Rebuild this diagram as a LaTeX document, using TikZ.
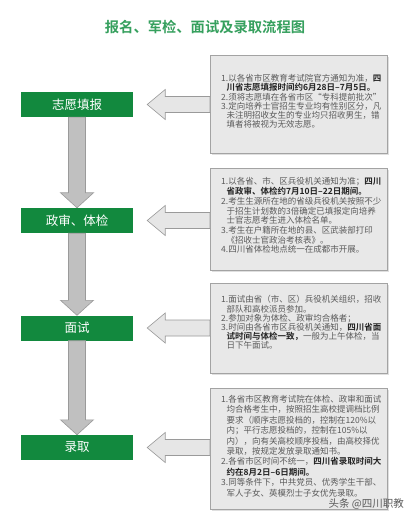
\documentclass[tikz,border=0pt]{standalone}
\usepackage{fontspec}
\setmainfont{Noto Sans CJK SC}[BoldFont={Noto Sans CJK SC Bold}]
\usetikzlibrary{calc,shadows}
\definecolor{gboxc}{HTML}{12893E}
\definecolor{titlec}{HTML}{36A05E}
\definecolor{tboxfill}{HTML}{E8E8E8}
\definecolor{tboxline}{HTML}{A3A3A3}
\definecolor{txtc}{HTML}{5A5A5A}
\definecolor{hlc}{HTML}{222222}
\definecolor{varrowc}{HTML}{C0C0C0}
\definecolor{sarrowc}{HTML}{E6E6E6}
\definecolor{arrowline}{HTML}{9A9A9A}
\newcommand\hl[1]{\textbf{\color{hlc}#1}}
\newcommand\ind{\hspace*{5.5pt}}
\newcommand\myvarrow[2]{%
  \filldraw[varrow] ($(#1.south)+(-8.5,0)$) -- ($(#2.north)+(-8.5,-15)$) -- ($(#2.north)+(-16.5,-15)$) -- (#2.north) -- ($(#2.north)+(16.5,-15)$) -- ($(#2.north)+(8.5,-15)$) -- ($(#1.south)+(8.5,0)$) -- cycle;}
\newcommand\mysarrow[2]{%
  \coordinate (tip#2) at ($(#2.east)+(14,0)$);
  \filldraw[sarrow] (tip#2) -- ($(tip#2)+(18,-15)$) -- ($(tip#2)+(18,-8)$) -- ($(tip#2 -| #1.west)+(0,-8)$) -- ($(tip#2 -| #1.west)+(0,8)$) -- ($(tip#2)+(18,8)$) -- ($(tip#2)+(18,15)$) -- cycle;}
\begin{document}
\begin{tikzpicture}[x=1pt,y=-1pt,
  gbox/.style={fill=gboxc, text=white, minimum width=112pt, minimum height=25pt, inner sep=0pt, font=\fontsize{12.5}{14}\selectfont},
  tbox/.style={fill=tboxfill, draw=tboxline, line width=0.8pt, minimum width=177pt, inner sep=0pt, anchor=north west,
     drop shadow={shadow xshift=1.5pt, shadow yshift=-1.5pt, opacity=0.25}},
  txt/.style={anchor=north west, inner sep=0pt, align=left, text=txtc},
  varrow/.style={fill=varrowc, draw=arrowline, line width=0.6pt},
  sarrow/.style={fill=sarrowc, draw=arrowline, line width=0.6pt}]
\fill[white] (0,0) rectangle (413,518);
\useasboundingbox (0,0) rectangle (413,518);

\node[text=titlec, font=\bfseries\fontsize{14.3}{16}\selectfont, inner sep=0pt] (title) at (205,27) {报名、军检、面试及录取流程图};

% green step boxes
\node[gbox] (g1) at (77,104.5) {志愿填报};
\node[gbox] (g2) at (77,220.5) {政审、体检};
\node[gbox] (g3) at (77,328) {面试};
\node[gbox] (g4) at (77,447.5) {录取};

% text boxes
\node[tbox, minimum height=98pt] (t1) at (210,55) {};
\node[tbox, minimum height=102pt] (t2) at (210,168) {};
\node[tbox, minimum height=90pt] (t3) at (210,283) {};
\node[tbox, minimum height=121pt] (t4) at (210,388) {};

% vertical arrows
\myvarrow{g1}{g2}
\myvarrow{g2}{g3}
\myvarrow{g3}{g4}

% side arrows
\mysarrow{t1}{g1}
\mysarrow{t2}{g2}
\mysarrow{t3}{g3}
\mysarrow{t4}{g4}

\node[txt, font=\fontsize{8.5}{9.3}\selectfont] (x1) at ($(t1.north west)+(11,19)$) {%
1.以各省市区教育考试院官方通知为准，\hl{四}\\
\ind\hl{川省志愿填报时间约6月28日–7月5日。}\\
2.须将志愿填在各省市区“专科提前批次”\\
3.定向培养士官招生专业均有性别区分，凡\\
\ind 未注明招收女生的专业均只招收男生，错\\
\ind 填者将被视为无效志愿。};

\node[txt, font=\fontsize{8.5}{9.7}\selectfont] (x2) at ($(t2.north west)+(11,9.5)$) {%
1.以各省、市、区兵役机关通知为准；\hl{四川}\\
\ind\hl{省政审、体检约7月10日–22日期间。}\\
2.考生生源所在地的省级兵役机关按照不少\\
\ind 于招生计划数的3倍确定已填报定向培养\\
\ind 士官志愿考生进入体检名单。\\
3.考生在户籍所在地的县、区武装部打印\\
\ind《招收士官政治考核表》。\\
4.四川省体检地点统一在成都市开展。};

\node[txt, font=\fontsize{8.5}{9.2}\selectfont] (x3) at ($(t3.north west)+(11,12.5)$) {%
1.面试由省（市、区）兵役机关组织，招收\\
\ind 部队和高校派员参加。\\
2.参加对象为体检、政审均合格者；\\
3.时间由各省市区兵役机关通知，\hl{四川省面}\\
\ind\hl{试时间与体检一致，}一般为上午体检，当\\
\ind 日下午面试。};

\node[txt, font=\fontsize{8.5}{10.4}\selectfont] (x4) at ($(t4.north west)+(11,7)$) {%
1.各省市区教育考试院在体检、政审和面试\\
\ind 均合格考生中，按照招生高校提调档比例\\
\ind 要求（顺序志愿投档的，控制在120\%以\\
\ind 内；平行志愿投档的，控制在105\%以\\
\ind 内），向有关高校顺序投档，由高校择优\\
\ind 录取，按规定发放录取通知书。\\
2.各省市区时间不统一，\hl{四川省录取时间大}\\
\ind\hl{约在8月2日–6日期间。}\\
3.同等条件下，中共党员、优秀学生干部、\\
\ind 军人子女、英模烈士子女优先录取。};

\node[text=black!65, font=\fontsize{10.5}{12}\selectfont, inner sep=0pt, anchor=east] (wm) at (404,504) {头条 @四川职教};
\end{tikzpicture}
\end{document}
